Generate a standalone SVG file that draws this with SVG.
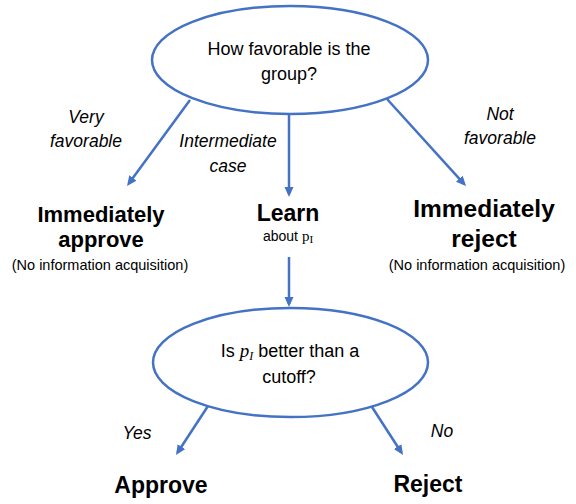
<svg xmlns="http://www.w3.org/2000/svg" width="576" height="504" viewBox="0 0 576 504">
<defs>
<marker id="ah" markerUnits="userSpaceOnUse" markerWidth="11" markerHeight="10" refX="7" refY="4.5" orient="auto">
<path d="M0,0 L10,4.5 L0,9 z" fill="#4472C4"/>
</marker>
<style>
.node ellipse{fill:#fff;stroke:#4472C4;stroke-width:2.5}
.conn line{stroke:#4472C4;stroke-width:2.5;marker-end:url(#ah)}
text{font-family:"Liberation Sans",Arial,sans-serif;fill:#000;text-anchor:middle}
.q{font-size:18px}
.lab{font-size:17.5px;font-style:italic}
.big{font-weight:bold}
.small{font-size:14.5px}
.math{font-family:"Liberation Serif","DejaVu Serif",serif}
</style>
</defs>
<rect width="576" height="504" fill="#fff"/>
<g id="connectors" class="conn">
<line x1="190" y1="100" x2="128.8" y2="183.6"/>
<line x1="289" y1="114" x2="289" y2="194"/>
<line x1="387" y1="99" x2="464" y2="183.8"/>
<line x1="289" y1="257" x2="289" y2="304"/>
<line x1="208" y1="406" x2="177.6" y2="452.5"/>
<line x1="372" y1="407" x2="401.4" y2="452.5"/>
</g>
<g id="edge-labels">
<text class="lab" x="86" y="123">Very</text>
<text class="lab" x="86" y="147">favorable</text>
<text class="lab" x="228" y="147">Intermediate</text>
<text class="lab" x="228" y="172">case</text>
<text class="lab" x="500" y="120">Not</text>
<text class="lab" x="500" y="144">favorable</text>
<text class="lab" x="137" y="439">Yes</text>
<text class="lab" x="442" y="437">No</text>
</g>
<g id="q1" class="node">
<ellipse cx="290" cy="60" rx="138" ry="54"/>
<text class="q" x="289" y="55">How favorable is the</text>
<text class="q" x="289" y="80">group?</text>
</g>
<g id="approve-now">
<text class="big" x="101" y="222" font-size="22">Immediately</text>
<text class="big" x="101" y="247" font-size="22">approve</text>
<text class="small" x="100" y="270">(No information acquisition)</text>
</g>
<g id="learn">
<text class="big" x="288" y="221" font-size="23">Learn</text>
<text x="288" y="241" font-size="14">about <tspan class="math" font-size="15">p</tspan><tspan class="math" font-size="11" dy="2">I</tspan></text>
</g>
<g id="reject-now">
<text class="big" x="484" y="217" font-size="24.5">Immediately</text>
<text class="big" x="484" y="247" font-size="24.5">reject</text>
<text class="small" x="477" y="270">(No information acquisition)</text>
</g>
<g id="q2" class="node">
<ellipse cx="290.5" cy="362.5" rx="137.5" ry="54.5"/>
<text class="q" x="290" y="357">Is <tspan class="math" font-style="italic" font-size="19">p</tspan><tspan class="math" font-style="italic" font-size="12" dy="3">I</tspan><tspan dy="-3"> better than a</tspan></text>
<text class="q" x="289" y="383">cutoff?</text>
</g>
<g id="approve">
<text class="big" x="161" y="493" font-size="23">Approve</text>
</g>
<g id="reject">
<text class="big" x="428" y="492" font-size="23">Reject</text>
</g>
</svg>
